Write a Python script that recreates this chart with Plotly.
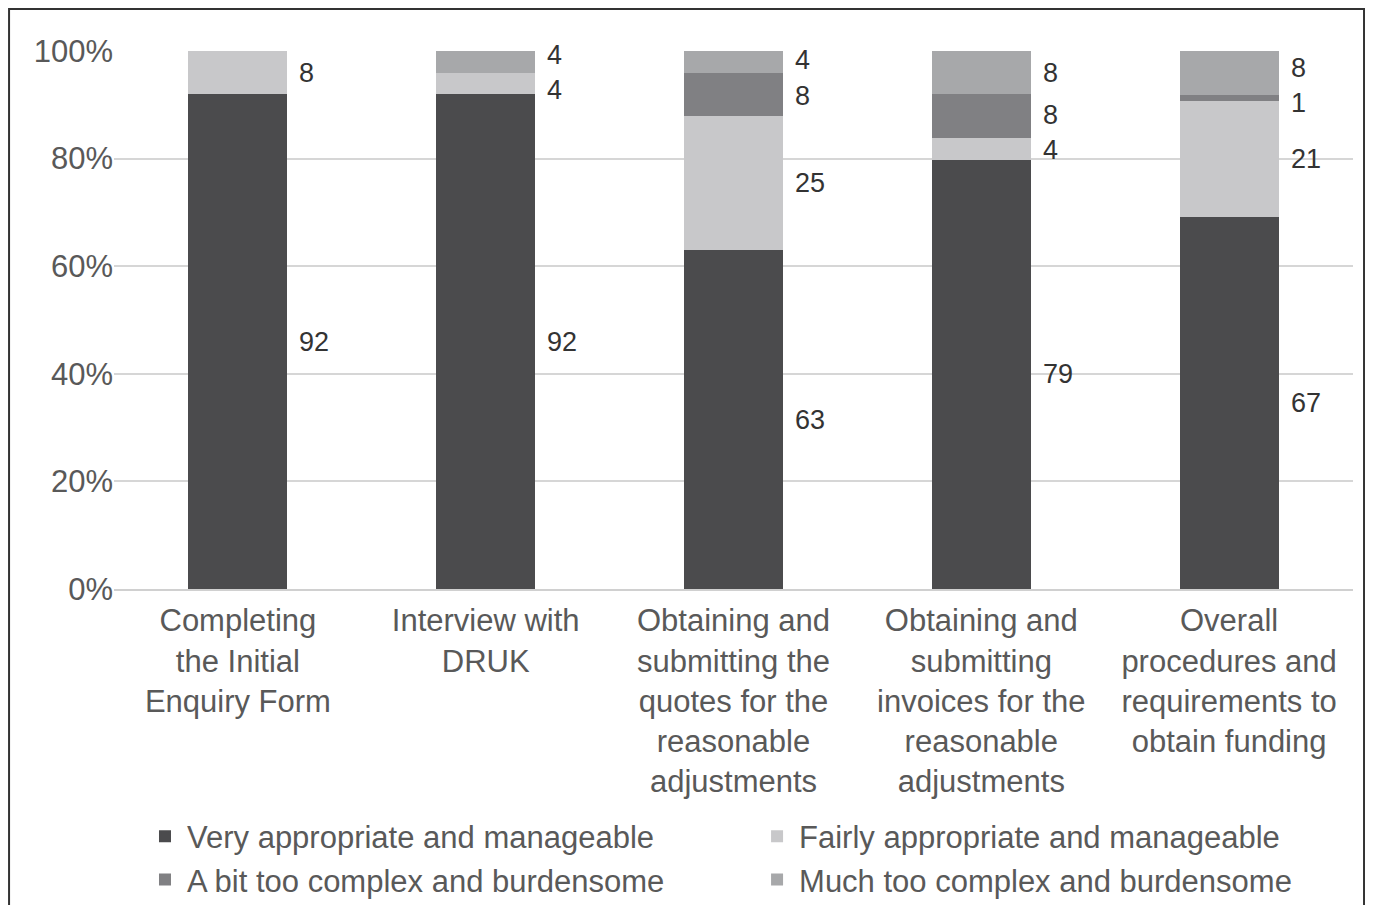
import plotly.graph_objects as go

categories = [
    "Completing<br>the Initial<br>Enquiry Form",
    "Interview with<br>DRUK",
    "Obtaining and<br>submitting the<br>quotes for the<br>reasonable<br>adjustments",
    "Obtaining and<br>submitting<br>invoices for the<br>reasonable<br>adjustments",
    "Overall<br>procedures and<br>requirements to<br>obtain funding",
]
series_names = [
    "Very appropriate and manageable",
    "Fairly appropriate and manageable",
    "A bit too complex and burdensome",
    "Much too complex and burdensome",
]
very = [92, 92, 63, 79, 67]
fairly = [8, 4, 25, 4, 21]
a_bit = [0, 0, 8, 8, 1]
much = [0, 4, 4, 8, 8]
series_values = [very, fairly, a_bit, much]
colors = ["#4b4b4d", "#c8c8ca", "#808083", "#a7a8aa"]

FONT = "Liberation Sans, Arial, sans-serif"
fig = go.Figure()
for name, vals, col in zip(series_names, series_values, colors):
    fig.add_trace(go.Bar(
        x=list(range(len(categories))), y=vals, name=name,
        marker=dict(color=col, line=dict(width=0)),
        width=0.4,
    ))

# data labels to the right of each segment, at its normalized middle,
# spread apart where they would overlap
MIN_GAP = 6.6
for i in range(len(categories)):
    total = sum(s[i] for s in series_values)
    cum = 0
    labels = []
    for s in series_values:
        v = s[i]
        if v > 0:
            labels.append([(cum + v / 2) / total * 100, v])
        cum += v
    for _ in range(20):
        moved = False
        for k in range(len(labels) - 1):
            gap = labels[k + 1][0] - labels[k][0]
            if gap < MIN_GAP - 1e-6:
                d = (MIN_GAP - gap) / 2
                labels[k][0] -= d
                labels[k + 1][0] += d
                moved = True
        if not moved:
            break
    for ypos, v in labels:
        fig.add_annotation(
            x=i + 0.2, y=ypos, xref="x", yref="y", text=str(v),
            showarrow=False, xanchor="left", yanchor="middle", xshift=10,
            font=dict(family=FONT, size=27, color="#333333"),
        )

fig.update_layout(
    barmode="stack", barnorm="percent",
    width=1357, height=897,
    margin=dict(l=106, r=12, t=43, b=316, autoexpand=False),
    paper_bgcolor="white", plot_bgcolor="white",
    font=dict(family=FONT, size=31, color="#595959"),
    showlegend=True,
    legend=dict(
        orientation="h", x=0.0234, xanchor="left", y=-0.41, yanchor="top",
        entrywidth=0.494, entrywidthmode="fraction",
        bgcolor="rgba(0,0,0,0)",
        font=dict(family=FONT, size=31, color="#595959"),
        itemwidth=34, traceorder="normal",
    ),
    xaxis=dict(
        tickmode="array", tickvals=list(range(len(categories))), ticktext=categories,
        range=[-0.5, len(categories) - 0.5],
        showgrid=False, showline=True, linecolor="#d0d0d0", linewidth=2,
        ticks="", ticklabelstandoff=3,
        tickfont=dict(family=FONT, size=31, color="#595959"),
    ),
    yaxis=dict(
        range=[0, 100], dtick=20, ticksuffix="%",
        showgrid=True, gridcolor="#d6d6d6", gridwidth=2,
        zeroline=False, showline=False, ticks="",
        tickfont=dict(family=FONT, size=31, color="#595959"),
    ),
    shapes=[dict(
        type="rect", xref="paper", yref="paper",
        x0=-0.0847, x1=1.0089, y0=-0.62, y1=1.078,
        line=dict(color="#333333", width=2), fillcolor="rgba(0,0,0,0)", layer="below",
    )],
)

fig.write_html("out.html")
